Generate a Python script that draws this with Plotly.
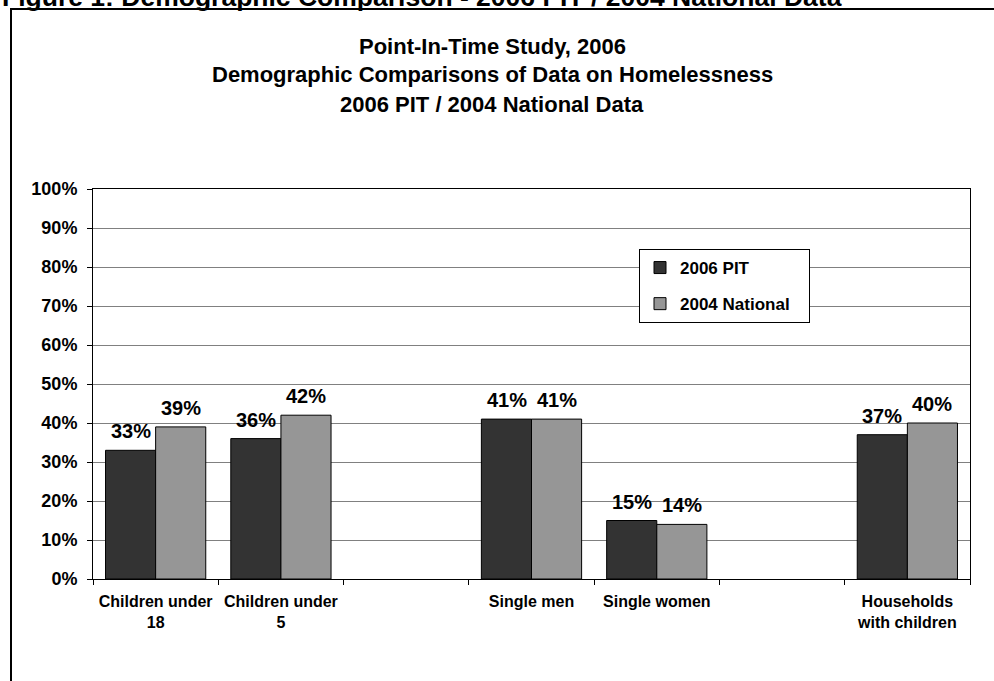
import plotly.graph_objects as go

categories = ["Children under<br>18", "Children under<br>5", " ", "Single men",
              "Single women", "  ", "Households<br>with children"]
pit_2006 = [0.33, 0.36, None, 0.41, 0.15, None, 0.37]
national_2004 = [0.39, 0.42, None, 0.41, 0.14, None, 0.40]
series_names = ["2006 PIT", "2004 National"]
series_colors = ["#333333", "#969696"]
y_ticks = [i / 10 for i in range(11)]
y_tick_labels = [f"{i*10}%" for i in range(11)]
title_lines = ["Point-In-Time Study, 2006",
               "Demographic Comparisons of Data on Homelessness",
               "2006 PIT / 2004 National Data"]
caption = "Figure 1: Demographic Comparison - 2006 PIT / 2004 National Data"

W, H = 994, 681
ML, MR, MT, MB = 93, 24, 189, 102
PW, PH = W - ML - MR, H - MT - MB


def px(x):
    return (x - ML) / PW


def py(y):
    return (H - MB - y) / PH


FONT = "Liberation Sans, Arial, sans-serif"
BAR_HALF_PX = 25  # half of one bar's drawn width, for centring labels
LEGEND_PAD = "\u00a0\u00a0\u00a0"

fig = go.Figure()
annotations = []
for k, (name, vals, col) in enumerate(zip(series_names, [pit_2006, national_2004], series_colors)):
    fig.add_trace(go.Bar(
        x=categories, y=vals, name=name + LEGEND_PAD, legendgroup=name,
        marker=dict(color=col, line=dict(color="#000000", width=1)),
    ))
    shift = -BAR_HALF_PX if k == 0 else BAR_HALF_PX
    for c, v in zip(categories, vals):
        if v is None:
            continue
        annotations.append(dict(
            text=f"{round(v*100)}%", xref="x", yref="y", x=c, y=v,
            xanchor="center", yanchor="bottom", xshift=shift, yshift=6,
            showarrow=False,
            font=dict(family=FONT, size=20, color="#000000", weight="bold")))

for i, t in enumerate(title_lines):
    annotations.append(dict(
        text=t, xref="paper", yref="paper", x=px(492), y=py([46, 75, 104][i]),
        xanchor="center", yanchor="middle", showarrow=False,
        font=dict(family=FONT, size=22, color="#000000", weight="bold")))
annotations.append(dict(
    text=caption, xref="paper", yref="paper", x=px(0), y=py(14),
    xanchor="left", yanchor="bottom", showarrow=False,
    font=dict(family=FONT, size=26.5, color="#000000", weight="bold")))

fig.update_layout(
    width=W, height=H,
    margin=dict(l=ML, r=MR, t=MT, b=MB, pad=0),
    paper_bgcolor="white", plot_bgcolor="white",
    barmode="group", bargap=0.2, bargroupgap=0,
    font=dict(family=FONT, color="#000000"),
    showlegend=True,
    legend=dict(x=px(639), y=py(249), xanchor="left", yanchor="top",
                bgcolor="white", bordercolor="#000000", borderwidth=1,
                tracegroupgap=11,
                font=dict(family=FONT, size=17, color="#000000", weight="bold")),
    annotations=annotations,
    shapes=[dict(type="rect", xref="paper", yref="paper",
                 x0=px(11), x1=px(997), y0=py(9), y1=py(720),
                 line=dict(color="#000000", width=2), layer="below")],
)
fig.update_xaxes(
    type="category", categoryorder="array", categoryarray=categories,
    showline=True, linecolor="#000000", linewidth=1, mirror=True,
    ticks="outside", tickson="boundaries", ticklen=5, tickcolor="#000000",
    ticklabelstandoff=8,
    showgrid=False,
    tickfont=dict(family=FONT, size=16, color="#000000", weight="bold"),
)
fig.update_yaxes(
    range=[0, 1], tickvals=y_ticks, ticktext=y_tick_labels,
    showline=True, linecolor="#000000", linewidth=1, mirror=True,
    ticks="outside", ticklen=5, tickcolor="#000000", ticklabelstandoff=6,
    showgrid=True, gridcolor="#808080", gridwidth=1, zeroline=False,
    tickfont=dict(family=FONT, size=18, color="#000000", weight="bold"),
)

fig.write_html("out.html")
